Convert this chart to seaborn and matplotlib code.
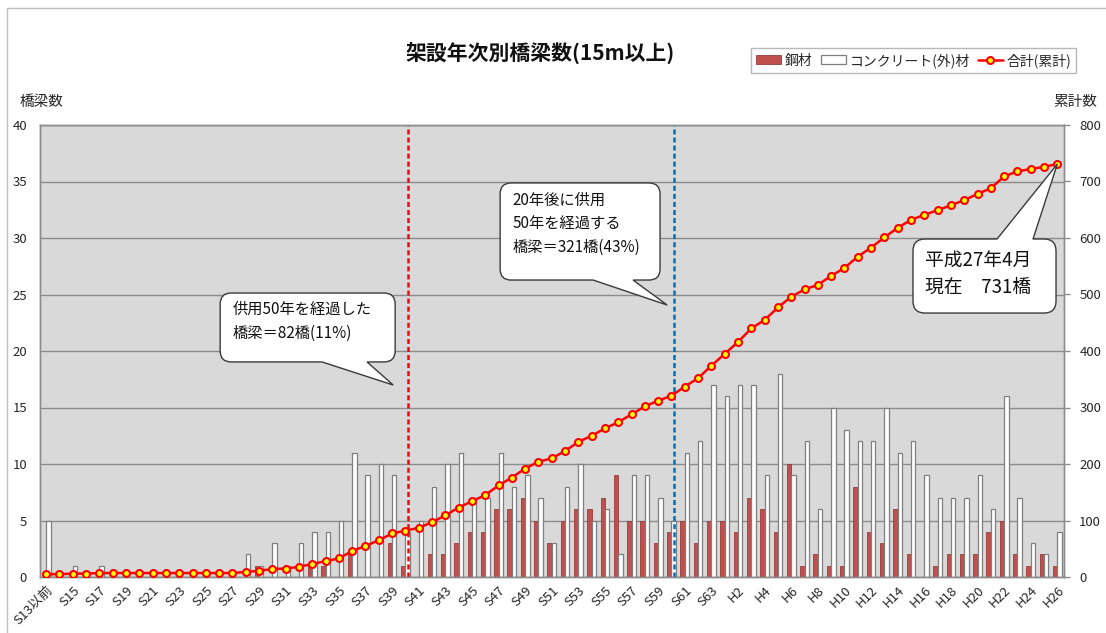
import numpy as np
import pandas as pd
import matplotlib
matplotlib.use("Agg")
import matplotlib.pyplot as plt
import seaborn as sns
from matplotlib.path import Path
from matplotlib.patches import PathPatch, Patch, Rectangle
from matplotlib.lines import Line2D
from matplotlib.transforms import IdentityTransform

# ---- data -------------------------------------------------------------
years = ["S13以前"] + [f"S{n}" for n in range(14, 64)] + [f"H{n}" for n in range(1, 27)]

# bridges built per year, steel
steel = [0, 0, 0, 0, 0, 0, 0, 0, 0, 0,
         0, 0, 0, 0, 0, 0, 1, 0, 0, 0,
         1, 1, 0, 2, 0, 0, 3, 1, 0, 2,
         2, 3, 4, 4, 6, 6, 7, 5, 3, 5,
         6, 6, 7, 9, 5, 5, 3, 4, 5, 3,
         5, 5, 4, 7, 6, 4, 10, 1, 2, 1,
         1, 8, 4, 3, 6, 2, 0, 1, 2, 2,
         2, 4, 5, 2, 1, 2, 1]

# bridges built per year, concrete (incl. others)
concrete = [5, 0, 1, 0, 1, 0, 0, 0, 0, 0,
            0, 0, 0, 0, 0, 2, 1, 3, 1, 3,
            4, 4, 5, 11, 9, 10, 9, 4, 5, 8,
            10, 11, 7, 7, 11, 8, 9, 7, 3, 8,
            10, 5, 6, 2, 9, 9, 7, 5, 11, 12,
            17, 16, 17, 17, 9, 18, 9, 12, 6, 15,
            13, 12, 12, 15, 11, 12, 9, 7, 7, 7,
            9, 6, 16, 7, 3, 2, 4]

# running total of all bridges
cumulative = [5, 5, 6, 6, 7, 7, 7, 7, 7, 7,
              7, 7, 7, 7, 7, 9, 11, 14, 15, 18,
              23, 28, 33, 46, 55, 65, 77, 82, 87, 97,
              109, 123, 134, 145, 162, 176, 192, 204, 210, 223,
              239, 250, 263, 274, 288, 302, 312, 321, 337, 352,
              374, 395, 416, 440, 455, 477, 496, 509, 517, 533,
              547, 567, 583, 601, 618, 632, 641, 649, 658, 667,
              678, 688, 709, 718, 722, 726, 731]

materials = ["鋼材", "コンクリート(外)材"]
total_label = "合計(累計)"
left_ticks = [0, 5, 10, 15, 20, 25, 30, 35, 40]
right_ticks = [0, 100, 200, 300, 400, 500, 600, 700, 800]

# ---- style --------------------------------------------------------------
sns.set_theme(style="white")
plt.rcParams["font.family"] = ["Noto Sans CJK JP", "DejaVu Sans"]
plt.rcParams["lines.scale_dashes"] = False

STEEL = "#C0504D"
GRID = "#8C8C8C"
TXT = "#262626"

W, H = 1106, 633
fig = plt.figure(figsize=(W / 100, H / 100), dpi=100)
fig.patch.set_facecolor("white")

# outer chart frame
fig.add_artist(Rectangle((7 / W, -0.1), 1.2, 1 - 8 / H + 0.1, transform=fig.transFigure,
                         facecolor="none", edgecolor="#BFBFBF", lw=1.0))

ax = fig.add_axes([39.5 / W, (H - 577) / H, (1064 - 39.5) / W, (577 - 125) / H])
ax.set_facecolor("#D9D9D9")

n = len(years)
df = pd.DataFrame({
    "年次": years * 2,
    "材料": [materials[0]] * n + [materials[1]] * n,
    "橋梁数": steel + concrete,
})

sns.barplot(data=df, x="年次", y="橋梁数", hue="材料", order=years, hue_order=materials,
            palette={materials[0]: STEEL, materials[1]: "white"}, saturation=1,
            width=0.66, gap=0, errorbar=None, legend=False, ax=ax, zorder=2)

edge_styles = [("#9A3C3A", 0.6), ("#7F7F7F", 0.9)]
for cont, (ec, lw) in zip(ax.containers, edge_styles):
    for p in cont:
        p.set_edgecolor(ec)
        p.set_linewidth(lw if p.get_height() > 0 else 0)

ax.set_xlim(-0.5, n - 0.5)
ax.set_ylim(0, 40)
ax.set_yticks(left_ticks)
ax.set_xlabel("")
ax.set_ylabel("")
ax.yaxis.grid(True, color=GRID, lw=1.0)
ax.xaxis.grid(False)
ax.set_axisbelow(True)
for s in ax.spines.values():
    s.set_color(GRID)
    s.set_linewidth(1.0)
ax.tick_params(axis="y", length=0, pad=9, labelsize=9.5, labelcolor=TXT)
ax.set_xticks(range(0, n, 2))
ax.set_xticklabels(years[::2], rotation=45, ha="right", va="top",
                   rotation_mode="anchor", fontsize=9.5, color=TXT)
ax.tick_params(axis="x", length=0, pad=5)


# reference lines through the concrete bars of S40 and S60
def bar_center(name):
    p = ax.containers[1][years.index(name)]
    return p.get_x() + p.get_width() / 2


ax.vlines(bar_center("S40"), 0, 40, color="#FF0000", lw=1.8, linestyles=(0, (3.6, 2.2)), zorder=4)
ax.vlines(bar_center("S60"), 0, 40, color="#0070C0", lw=1.8, linestyles=(0, (3.6, 2.2)), zorder=4)

# cumulative total on the secondary axis
ax2 = ax.twinx()
sns.lineplot(x=np.arange(n), y=cumulative, ax=ax2, color="#FF0000", lw=1.8,
             marker="o", markersize=5, markerfacecolor="#FFFF00",
             markeredgecolor="#FF0000", markeredgewidth=1.5, zorder=5)
ax2.set_ylim(0, 800)
ax2.set_xlim(-0.5, n - 0.5)
ax2.set_yticks(right_ticks)
ax2.tick_params(axis="y", length=4, width=1, color=GRID, pad=7, labelsize=9.5, labelcolor=TXT)
for s in ax2.spines.values():
    s.set_color(GRID)
    s.set_linewidth(1.0)
ax2.set_ylabel("")


# ---- callouts -------------------------------------------------------------
def bubble(x0, x1, y0, y1, base, tip, side="bottom", r=11):
    """Rounded box with a pointer; corners given in left-axis data units."""
    T = ax.transData.transform
    (px0, py0), (px1, py1) = T((x0, y0)), T((x1, y1))
    bx0, bx1 = T((base[0], y0))[0], T((base[1], y0))[0]
    tx, ty = T(tip)
    V, C = [], []

    def mv(p):
        V.append(p); C.append(Path.MOVETO)

    def ln(p):
        V.append(p); C.append(Path.LINETO)

    def cv(c, p):
        V.extend([c, p]); C.extend([Path.CURVE3, Path.CURVE3])

    mv((px0 + r, py0))
    if side == "bottom":
        ln((bx0, py0)); ln((tx, ty)); ln((bx1, py0))
    ln((px1 - r, py0)); cv((px1, py0), (px1, py0 + r))
    ln((px1, py1 - r)); cv((px1, py1), (px1 - r, py1))
    if side == "top":
        ln((bx1, py1)); ln((tx, ty)); ln((bx0, py1))
    ln((px0 + r, py1)); cv((px0, py1), (px0, py1 - r))
    ln((px0, py0 + r)); cv((px0, py0), (px0 + r, py0))
    V.append((0, 0)); C.append(Path.CLOSEPOLY)
    ax2.add_patch(PathPatch(Path(V, C), facecolor="white", edgecolor="#3A3A3A", lw=1.0,
                            transform=IdentityTransform(), zorder=10, clip_on=False))


def callout_text(x, y, s, fs, ls):
    # y in left-axis units, drawn on the top axis so it sits above the bubbles
    ax2.text(x, y * 20, s, fontsize=fs, color="#111111", ha="left", va="center",
             linespacing=ls, zorder=11)


i40, i60, last = years.index("S40"), years.index("S60"), n - 1
total = cumulative[last]

bubble(13.08, 26.23, 19.03, 25.13, (20.74, 24.12), (26.08, 16.99), "bottom")
callout_text(13.98, 22.6,
             f"供用50年を経過した\n橋梁＝{cumulative[i40]}橋({int(100 * cumulative[i40] / total)}%)",
             11, 1.55)

bubble(34.12, 46.14, 26.28, 34.87, (41.11, 44.11), (46.67, 24.07), "bottom")
callout_text(35.02, 31.25,
             f"20年後に供用\n50年を経過する\n橋梁＝{cumulative[i60]}橋({int(100 * cumulative[i60] / total)}%)",
             11, 1.5)

bubble(65.15, 75.90, 23.36, 29.91, (71.47, 74.17), (last, total / 20), "top", r=12)
callout_text(66.05, 26.85, f"平成27年4月\n現在　{total}橋", 13.5, 1.4)

# ---- titles and legend ----------------------------------------------------
fig.text(540 / W, 1 - 53 / H, "架設年次別橋梁数(15m以上)", ha="center", va="center",
         fontsize=15, fontweight="bold", color="#111111")
fig.text(20 / W, 1 - 102 / H, "橋梁数", ha="left", va="center", fontsize=10.5, color=TXT)
fig.text(1097 / W, 1 - 102 / H, "累計数", ha="right", va="center", fontsize=10.5, color=TXT)

handles = [
    Patch(facecolor=STEEL, edgecolor="#9A3C3A", lw=0.6),
    Patch(facecolor="white", edgecolor="#7F7F7F", lw=0.9),
    Line2D([], [], color="#FF0000", lw=1.8, marker="o", markersize=5,
           markerfacecolor="#FFFF00", markeredgecolor="#FF0000", markeredgewidth=1.5),
]
leg = fig.legend(handles, materials + [total_label], loc="upper right",
                 bbox_to_anchor=(1076 / W, 1 - 48 / H), ncol=3, fontsize=10,
                 frameon=True, fancybox=False, edgecolor="#A6A6A6", handlelength=1.8,
                 handleheight=0.6, handletextpad=0.25, columnspacing=0.6,
                 borderpad=0.35, borderaxespad=0)
leg.get_frame().set_linewidth(1.0)
for t in leg.get_texts():
    t.set_color(TXT)

fig.savefig("out.png", dpi=100)
